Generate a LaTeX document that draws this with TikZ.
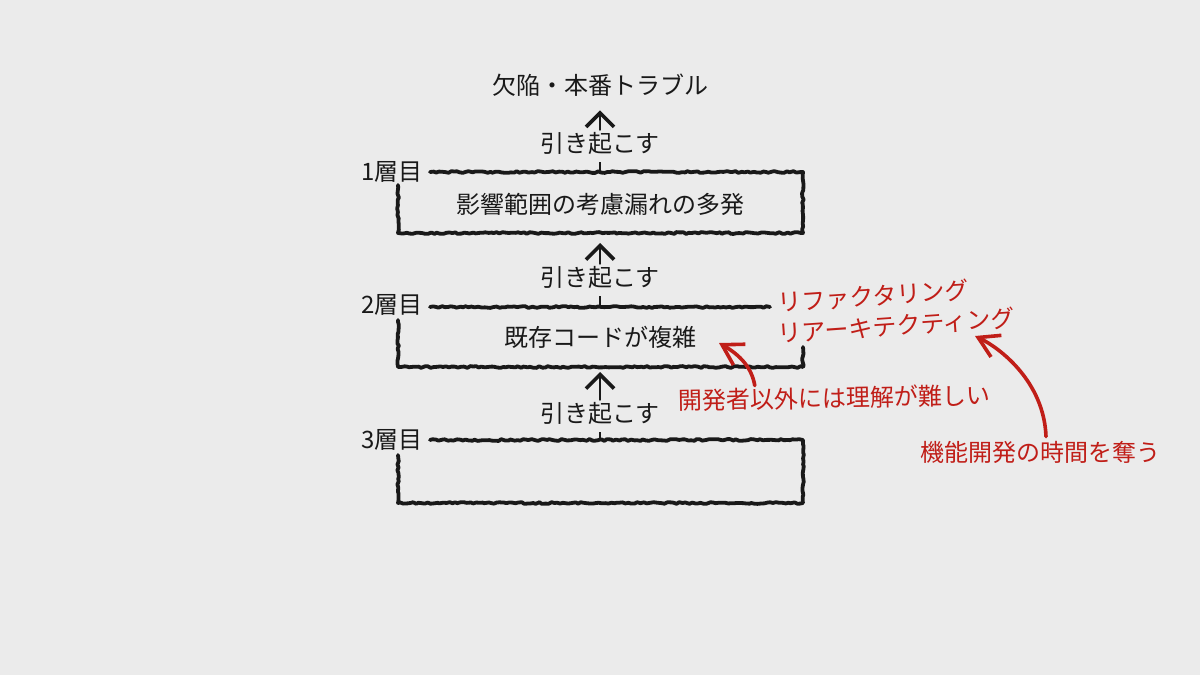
\documentclass[tikz,border=0pt]{standalone}
\usepackage{fontspec}
\newfontfamily\jpfont{Noto Sans CJK JP}
\usetikzlibrary{positioning,arrows.meta,calc,decorations.pathmorphing}
\definecolor{boardgray}{RGB}{235,235,235}
\definecolor{chalkblack}{RGB}{25,25,25}
\definecolor{penred}{RGB}{192,30,24}

\begin{document}
\begin{tikzpicture}[
  x=0.5pt, y=-0.5pt,
  font=\jpfont\fontsize{12}{14}\selectfont,
  every node/.style={text height=10pt, text depth=2pt, inner sep=1pt},
  lbl/.style={text=chalkblack},
  note/.style={text=penred, inner sep=0pt},
  chalk/.style={draw=chalkblack, line width=1.9pt, line cap=round, line join=round,
    decorate, decoration={random steps, segment length=1.5pt, amplitude=0.45pt}},
  carr/.style={draw=chalkblack, line width=1.4pt, line cap=round,
    -{Straight Barb[length=7pt, width=14pt, line width=1.8pt]}},
  tick/.style={draw=chalkblack, line width=1.4pt},
  rarr/.style={draw=penred, line width=1.8pt, line cap=round,
    -{Straight Barb[length=10pt, width=12pt, line width=1.8pt]}},
  ]
  \useasboundingbox (0,0) rectangle (1200,675);
  \fill[boardgray] (0,0) rectangle (1200,675);
  % texts of the layers
  \node[lbl] (top) at (600,86) {欠陥・本番トラブル};
  \node[lbl] (c1) at (600,144) {引き起こす};
  \node[lbl] (l1) at (600,205) {影響範囲の考慮漏れの多発};
  \node[lbl] (c2) at (600,278) {引き起こす};
  \node[lbl] (l2) at (600,338) {既存コードが複雑};
  \node[lbl] (c3) at (600,414) {引き起こす};
  \node[lbl, anchor=east] (t1) at (425,172) {1層目};
  \node[lbl, anchor=east] (t2) at (425,305) {2層目};
  \node[lbl, anchor=east] (t3) at (425,440) {3層目};
  % edges of the frames
  \coordinate (b1t) at (600,172);
  \coordinate (b1b) at (600,233);
  \coordinate (b2t) at (600,307);
  \coordinate (b2b) at (600,367);
  \coordinate (b3t) at (600,440);
  % frames
  \draw[chalk] (430,172) -| (803,233) -| (398,185);
  \draw[chalk] (430,307) -- (770,307);
  \draw[chalk] (803,347) |- (398,367) -- (398,320);
  \draw[chalk] (430,440) -| (803,503) -| (398,455);
  % causes
  \draw[carr, shorten >=5pt] (c1.north) -- (top.south);
  \draw[carr, shorten >=5pt] (c2.north) -- (b1b);
  \draw[carr, shorten >=2.5pt] (c3.north) -- (b2b);
  \draw[tick, shorten <=2pt] (c1.south) -- (b1t);
  \draw[tick, shorten <=2pt] (c2.south) -- (b2t);
  \draw[tick, shorten <=2pt] (c3.south) -- (b3t);
  % red notes
  \node[note, anchor=west, rotate=4] (rf1) at (778,304) {リファクタリング};
  \node[note, anchor=west, rotate=4] (rf2) at (778,335) {リアーキテクティング};
  \node[note, rotate=1] (n1) at (834,399) {開発者以外には理解が難しい};
  \node[note] (n2) at (1040,453) {機能開発の時間を奪う};
  \coordinate (a1) at (719,343);
  \coordinate (a2) at (975,336);
  \draw[rarr] ($(n1.north)+(-79,-1)$) .. controls +(-3,-18) and +(21,12) .. (a1);
  \draw[rarr] ($(n2.north)+(6,-4)$) .. controls +(-2,-55) and +(25,12) .. (a2);
\end{tikzpicture}
\end{document}
